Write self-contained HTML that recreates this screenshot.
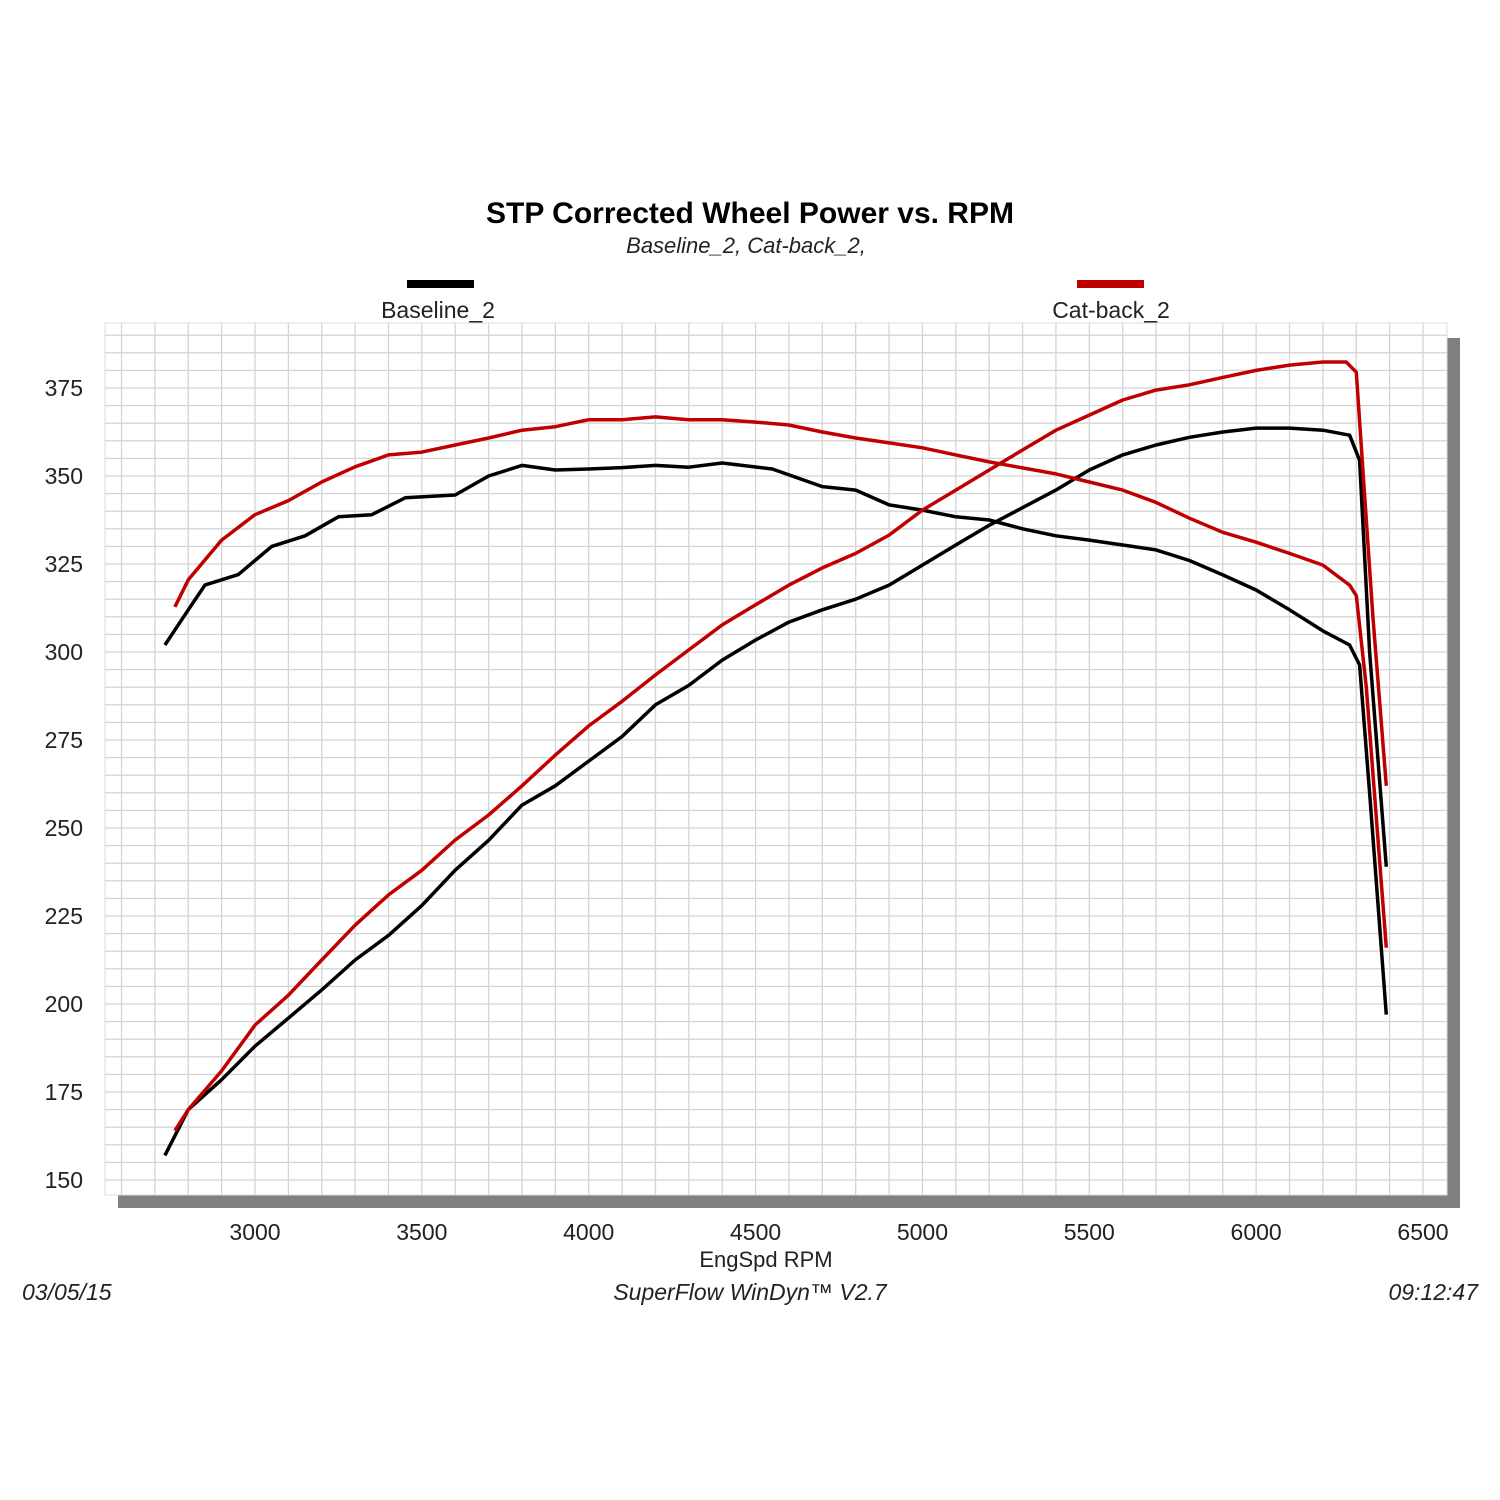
<!DOCTYPE html>
<html><head><meta charset="utf-8"><style>
html,body{margin:0;padding:0;background:#fff;}
svg{display:block;}
text{font-family:"Liberation Sans",Arial,sans-serif;fill:#222;}
</style></head><body>
<svg id="chart" width="1500" height="1500" viewBox="0 0 1500 1500" xmlns="http://www.w3.org/2000/svg">
<rect x="0" y="0" width="1500" height="1500" fill="#fff"/>
<text x="750" y="223" text-anchor="middle" font-size="30" font-weight="bold" style="fill:#000">STP Corrected Wheel Power vs. RPM</text>
<text x="746" y="253" text-anchor="middle" font-size="22" font-style="italic">Baseline_2, Cat-back_2,</text>
<rect x="407" y="280" width="67" height="8" fill="#000"/>
<text x="438" y="318" text-anchor="middle" font-size="23">Baseline_2</text>
<rect x="1077" y="280" width="67" height="8" fill="#c00000"/>
<text x="1111" y="318" text-anchor="middle" font-size="23">Cat-back_2</text>
<rect x="118" y="338" width="1342" height="870" fill="#808080"/>
<rect x="105" y="323" width="1342" height="872" fill="#fff" stroke="#ddd"/>
<g id="grid"></g>
<g id="ticks"></g>
<g id="series"></g>
<text x="766" y="1267" text-anchor="middle" font-size="22">EngSpd  RPM</text>
<text x="22" y="1300" font-size="23" font-style="italic">03/05/15</text>
<text x="750" y="1300" text-anchor="middle" font-size="23" font-style="italic">SuperFlow WinDyn™ V2.7</text>
<text x="1478" y="1300" text-anchor="end" font-size="23" font-style="italic">09:12:47</text>
</svg>
<script>
const xTicks=[3000,3500,4000,4500,5000,5500,6000,6500];
const yTicks=[150,175,200,225,250,275,300,325,350,375];
const baseHpRpm=[2730,2800,2900,3000,3100,3200,3300,3400,3500,3600,3700,3800,3900,4000,4100,4200,4300,4400,4500,4600,4700,4800,4900,5000,5100,5200,5300,5400,5500,5600,5700,5800,5900,6000,6100,6200,6280,6310,6340,6390];
const baseHp=[157,170,178.5,188,196,204,212.5,219.5,228,238,246.5,256.5,262,269,276,285,290.5,297.7,303.4,308.5,312,315,319,324.7,330.4,336,341,346,351.7,356,358.8,361,362.5,363.6,363.6,363,361.6,354.5,300,239];
const baseTqRpm=[2730,2800,2850,2950,3000,3050,3150,3250,3350,3450,3600,3700,3800,3900,4000,4100,4200,4300,4400,4550,4700,4800,4900,5000,5100,5200,5300,5400,5500,5600,5700,5800,5900,6000,6100,6200,6280,6310,6340,6390];
const baseTq=[302,312,319,322,326,330,333,338.4,339,343.8,344.6,350,353,351.7,352,352.4,353,352.5,353.7,352,347,346,341.8,340.3,338.4,337.5,335,333,331.8,330.4,329,326,321.9,317.6,312,306,302,296.3,260,197];
const catHpRpm=[2760,2800,2900,3000,3100,3200,3300,3400,3500,3600,3700,3800,3900,4000,4100,4200,4300,4400,4500,4600,4700,4800,4900,5000,5100,5200,5300,5400,5500,5600,5700,5800,5900,6000,6100,6200,6270,6300,6320,6350,6390];
const catHp=[164,170,181,194,202.5,212.5,222.4,231,238,246.6,253.7,262,270.7,279,286,293.5,300.6,307.7,313.4,319,323.9,328,333.2,340.3,346,351.7,357.4,363,367.3,371.6,374.4,375.9,378,380,381.5,382.4,382.4,379.5,351.7,310,262];
const catTqRpm=[2760,2800,2900,3000,3100,3200,3300,3400,3500,3600,3700,3800,3900,4000,4100,4200,4300,4400,4500,4600,4700,4800,4900,5000,5100,5200,5300,5400,5500,5600,5700,5800,5900,6000,6100,6200,6280,6300,6330,6390];
const catTq=[312.8,320.5,331.8,339,343,348.3,352.6,356,356.8,358.8,360.8,363,364,366,366,366.8,366,366,365.3,364.5,362.5,360.8,359.4,358,356,354,352.3,350.6,348.3,346,342.5,338,334,331.2,328,324.7,319,316,290,216];

const NS="http://www.w3.org/2000/svg";
function xs(r){return 255+(r-3000)*(1168/3500);}
function ys(v){return 388+(375-v)*(792/225);}
const L=105,T=323,R=1447,B=1195;
const grid=document.getElementById('grid');
for(let r=2600;r<=6500;r+=100){const x=xs(r);if(x<L||x>R)continue;
 const l=document.createElementNS(NS,'line');
 
 
 l.setAttribute('x1',x);l.setAttribute('x2',x);l.setAttribute('y1',T);l.setAttribute('y2',B);
 l.setAttribute('stroke','#d4d4d4');l.setAttribute('stroke-width','1.3');grid.appendChild(l);}
for(let v=145;v<=400;v+=5){const y=ys(v);if(y<T||y>B)continue;
 const l=document.createElementNS(NS,'line');
 
 
 l.setAttribute('x1',L);l.setAttribute('x2',R);l.setAttribute('y1',y);l.setAttribute('y2',y);
 l.setAttribute('stroke','#d4d4d4');l.setAttribute('stroke-width','1.3');grid.appendChild(l);}
const ticks=document.getElementById('ticks');
xTicks.forEach(r=>{const t=document.createElementNS(NS,'text');
 
 
 t.setAttribute('x',xs(r));t.setAttribute('y',1240);t.setAttribute('text-anchor','middle');t.setAttribute('font-size','23');
 t.textContent=r;ticks.appendChild(t);});
yTicks.forEach(v=>{const t=document.createElementNS(NS,'text');
 
 
 t.setAttribute('x',83);t.setAttribute('y',ys(v)+8);t.setAttribute('text-anchor','end');t.setAttribute('font-size','23');
 t.textContent=v;ticks.appendChild(t);});
const series=document.getElementById('series');
function draw(rpm,vals,color,name){
 const p=document.createElementNS(NS,'polyline');
 
 
 p.setAttribute('points',rpm.map((r,i)=>xs(r).toFixed(1)+','+ys(vals[i]).toFixed(1)).join(' '));
 p.setAttribute('fill','none');p.setAttribute('stroke',color);p.setAttribute('stroke-width','3.5');p.setAttribute('stroke-linejoin','round');
 series.appendChild(p);}
draw(baseTqRpm,baseTq,'#000','baseline-torque-line');
draw(baseHpRpm,baseHp,'#000','baseline-power-line');
draw(catTqRpm,catTq,'#c00000','catback-torque-line');
draw(catHpRpm,catHp,'#c00000','catback-power-line');
</script>
</body></html>
